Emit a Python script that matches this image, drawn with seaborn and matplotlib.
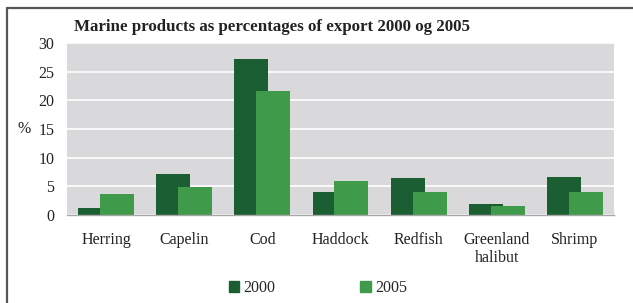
import pandas as pd
import matplotlib.pyplot as plt
import matplotlib.patches as mpatches
from matplotlib.lines import Line2D
import seaborn as sns

# data
species = ['Herring', 'Capelin', 'Cod', 'Haddock', 'Redfish', 'Greenland\nhalibut', 'Shrimp']
share_2000 = [1.2, 7.2, 27.2, 4.1, 6.5, 1.9, 6.6]
share_2005 = [3.7, 4.8, 21.6, 5.9, 4.1, 1.6, 4.1]
years = ['2000', '2005']
colors = ['#1b5e32', '#3f9a4a']

df = pd.DataFrame({
    'species': species * 2,
    'year': ['2000'] * len(species) + ['2005'] * len(species),
    'share': share_2000 + share_2005,
})

sns.set_theme(style='white')
plt.rcParams['font.family'] = ['Liberation Serif', 'DejaVu Serif']

fig = plt.figure(figsize=(6.33, 3.03), dpi=100)
ax = fig.add_axes([0.1058, 0.2904, 0.8642, 0.5676])
ax.set_facecolor('#d9d9db')

sns.barplot(data=df, x='species', y='share', hue='year', hue_order=years,
            palette=colors, width=0.87, dodge=True, saturation=1,
            linewidth=0, ax=ax, legend=False)

# pull the two bars together so they overlap like the original
n = len(species)
for i, p in enumerate(ax.patches):
    shift = 0.078 if i < n else -0.078
    p.set_x(p.get_x() + shift)

ax.set_xlim(-0.5, n - 0.5)
ax.set_ylim(0, 30)
ax.set_yticks(range(0, 31, 5))
ax.yaxis.grid(True, color='white', linewidth=1.2)
ax.set_axisbelow(True)
for side in ['top', 'right', 'left']:
    ax.spines[side].set_visible(False)
ax.spines['bottom'].set_color('#a6a6a6')
ax.spines['bottom'].set_linewidth(1)
ax.tick_params(axis='both', length=0, labelsize=11.5, colors='#222222')
ax.tick_params(axis='y', pad=9)
ax.tick_params(axis='x', pad=12)
ax.set_xlabel('')
ax.set_ylabel('%', rotation=0, fontsize=11.5, color='#222222', va='center')
ax.yaxis.set_label_coords(-0.078, 0.5)

fig.text(74 / 633, 1 - 27 / 303, 'Marine products as percentages of export 2000 og 2005',
         fontsize=12.2, fontweight='bold', color='#222222', va='center', ha='left')

handles = [mpatches.Patch(color=c, label=y) for c, y in zip(colors, years)]
fig.legend(handles=handles, loc='center', bbox_to_anchor=(318 / 633, 1 - 288 / 303),
           ncol=2, frameon=False, fontsize=11.5, handlelength=0.65, handleheight=0.65,
           handletextpad=0.3, columnspacing=5.3)

# partial outer frame (left and top edges)
fx, fy = 7.5 / 633, 1 - 7.5 / 303
fig.add_artist(Line2D([fx, fx], [0, fy], transform=fig.transFigure,
                      color='#555555', linewidth=1.6))
fig.add_artist(Line2D([fx, 1], [fy, fy], transform=fig.transFigure,
                      color='#555555', linewidth=1.6))

fig.savefig('out.png', dpi=100)
